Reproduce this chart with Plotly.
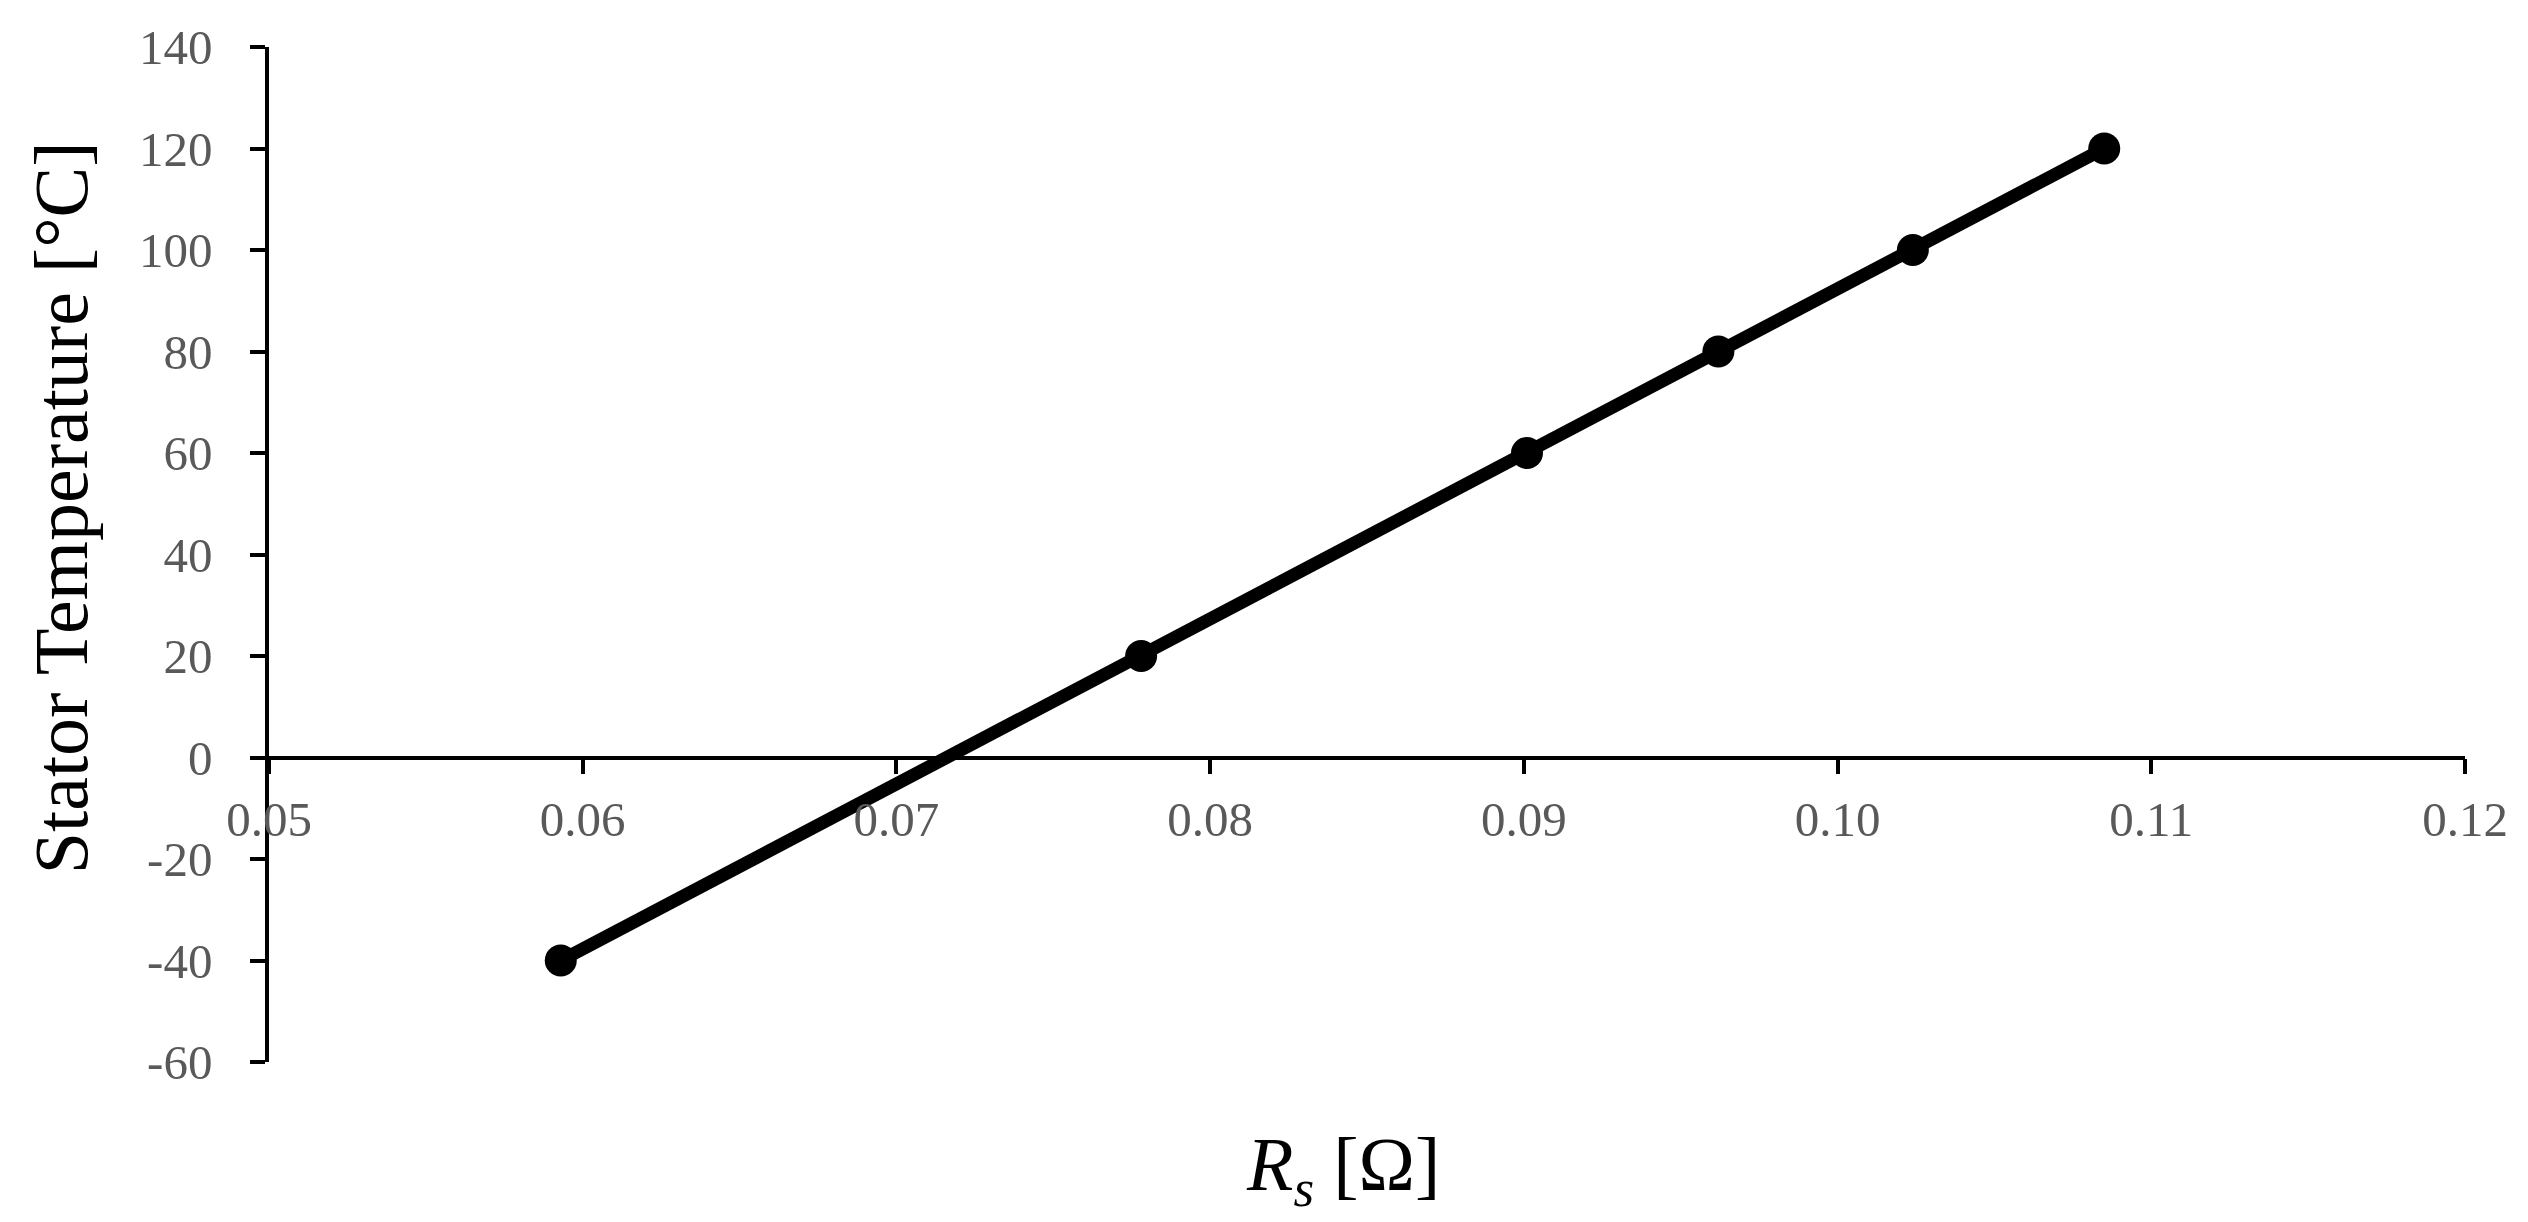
import plotly.graph_objects as go

# Data
rs_ohm = [0.0593, 0.0778, 0.0901, 0.0962, 0.1024, 0.1085]
temp_c = [-40, 20, 60, 80, 100, 120]

x_tickvals = [0.05, 0.06, 0.07, 0.08, 0.09, 0.10, 0.11, 0.12]
x_ticktext = ["0.05", "0.06", "0.07", "0.08", "0.09", "0.10", "0.11", "0.12"]
y_tickvals = [-60, -40, -20, 0, 20, 40, 60, 80, 100, 120, 140]
y_ticktext = ["-60", "-40", "-20", "0", "20", "40", "60", "80", "100", "120", "140"]

FONT = "Liberation Serif, Times New Roman, serif"
TICK_COLOR = "#595959"

fig = go.Figure()
fig.add_trace(go.Scatter(
    x=rs_ohm, y=temp_c, mode="lines+markers",
    line=dict(color="black", width=13),
    marker=dict(color="black", size=32),
    showlegend=False, hoverinfo="x+y",
))

fig.update_layout(
    width=2512, height=1206,
    margin=dict(l=261, r=45, t=32, b=152),
    paper_bgcolor="white", plot_bgcolor="white",
    font=dict(family=FONT, size=49, color=TICK_COLOR),
    xaxis=dict(
        range=[0.05, 0.12], tickvals=x_tickvals, ticktext=x_ticktext,
        anchor="free", position=0.3,
        showline=True, linecolor="black", linewidth=3.5,
        ticks="outside", ticklen=15, tickwidth=3.5, tickcolor="black",
        showgrid=False, zeroline=False,
        tickfont=dict(family=FONT, size=49, color=TICK_COLOR),
        ticklabelstandoff=3,
    ),
    yaxis=dict(
        range=[-60, 140], tickvals=y_tickvals, ticktext=y_ticktext,
        showline=True, linecolor="black", linewidth=3.5,
        ticks="outside", ticklen=15, tickwidth=3.5, tickcolor="black",
        showgrid=False, zeroline=False,
        tickfont=dict(family=FONT, size=49, color=TICK_COLOR),
        ticklabelstandoff=28,
    ),
    annotations=[
        dict(text="Stator Temperature [°C]", xref="paper", yref="paper",
             x=-0.095, y=0.546, xanchor="center", yanchor="middle",
             textangle=-90, showarrow=False,
             font=dict(family=FONT, size=76, color="black")),
        dict(text="<i>R<sub>s</sub></i> [Ω]", xref="paper", yref="paper",
             x=0.489, y=-0.106, xanchor="center", yanchor="middle",
             showarrow=False,
             font=dict(family=FONT, size=76, color="black")),
    ],
)

fig.write_html("out.html")
